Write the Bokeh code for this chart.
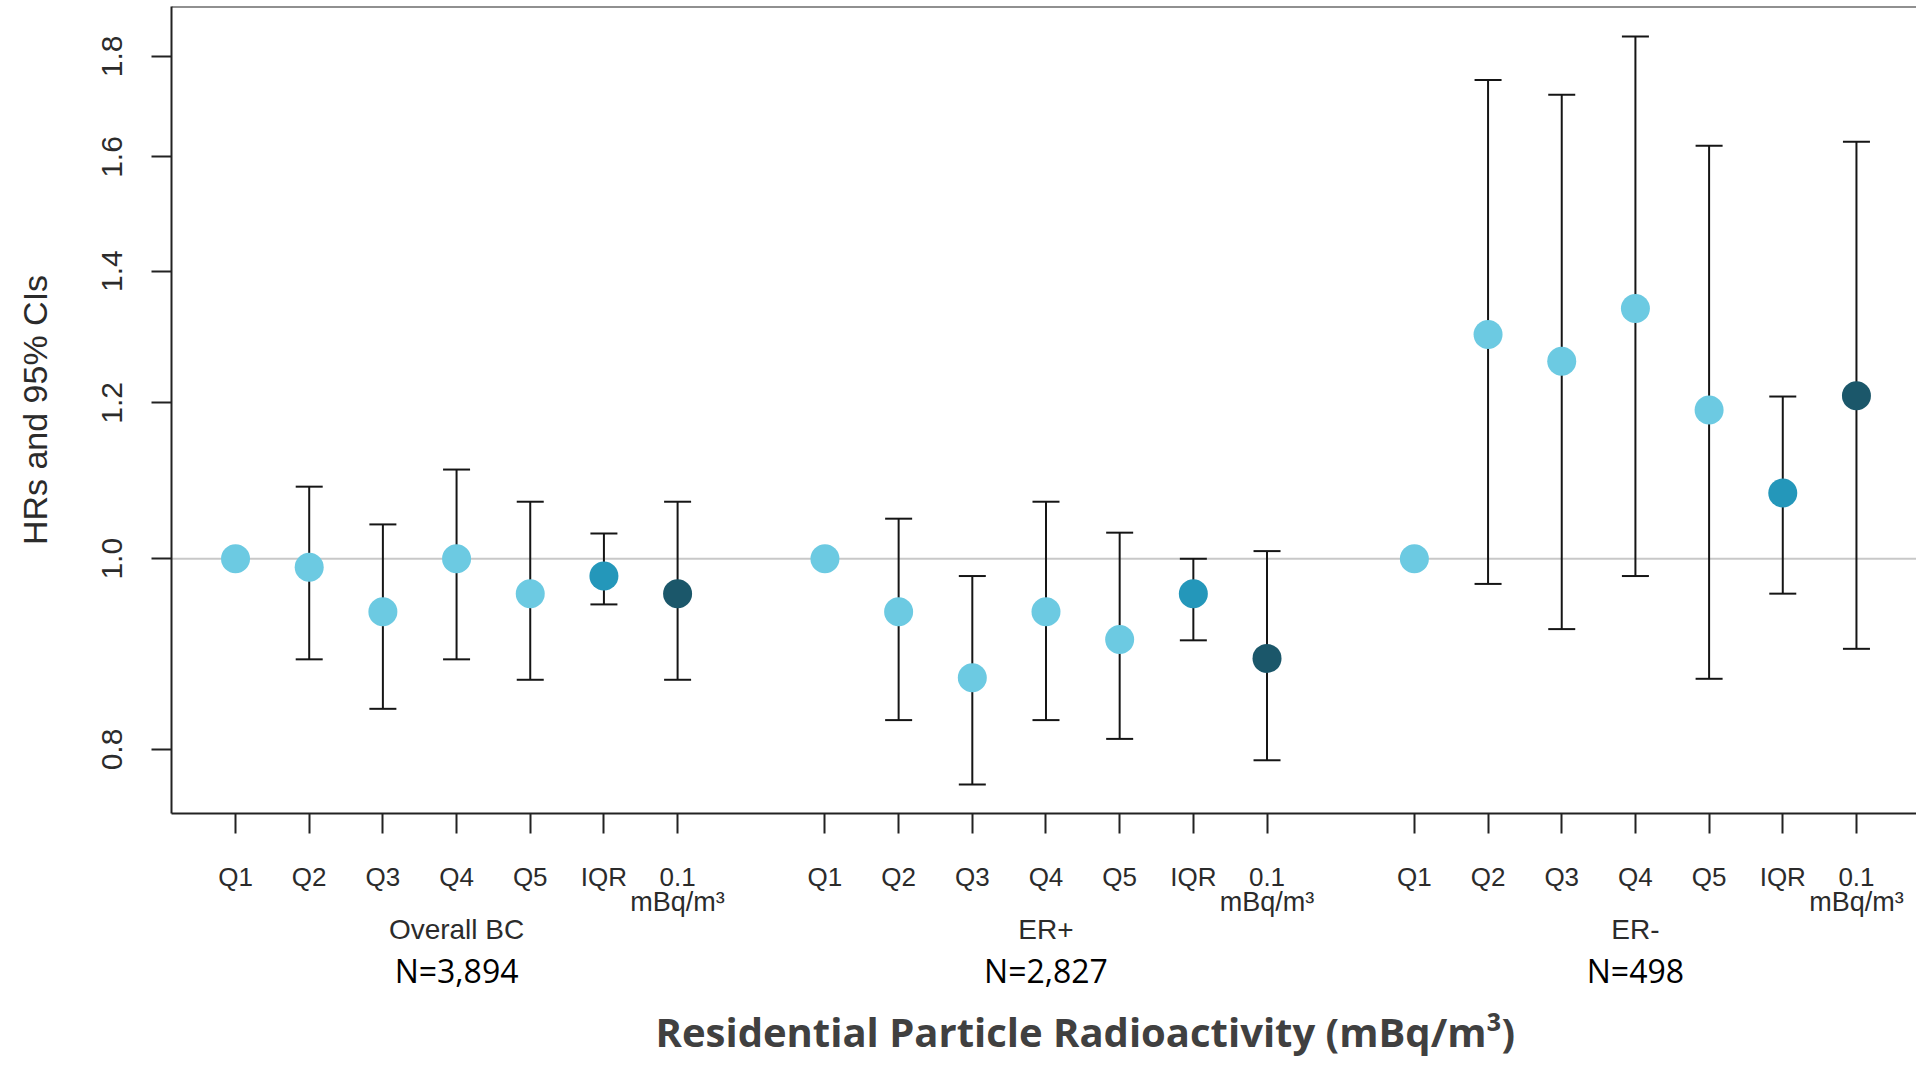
import numpy as np
from bokeh.plotting import figure
from bokeh.models import (ColumnDataSource, Range1d, FixedTicker, CustomJSTickFormatter,
                          Whisker, TeeHead, Span, LinearAxis, Title)
from bokeh.embed import file_html
from bokeh.resources import INLINE

# ---------------- data ----------------
categories = ["Q1", "Q2", "Q3", "Q4", "Q5", "IQR", "0.1"]
unit_label = "mBq/m\u00b3"
groups = ["Overall BC", "ER+", "ER-"]
n_labels = ["N=3,894", "N=2,827", "N=498"]

hr_overall = [1.00, 0.99, 0.94, 1.00, 0.96, 0.98, 0.96]
lo_overall = [np.nan, 0.889, 0.839, 0.889, 0.868, 0.948, 0.868]
hi_overall = [np.nan, 1.088, 1.041, 1.110, 1.069, 1.030, 1.069]

hr_erpos = [1.00, 0.94, 0.87, 0.94, 0.91, 0.96, 0.89]
lo_erpos = [np.nan, 0.828, 0.768, 0.828, 0.810, 0.909, 0.790]
hi_erpos = [np.nan, 1.048, 0.980, 1.069, 1.031, 1.000, 1.009]

hr_erneg = [1.00, 1.30, 1.26, 1.34, 1.19, 1.08, 1.21]
lo_erneg = [np.nan, 0.971, 0.921, 0.980, 0.869, 0.960, 0.900]
hi_erneg = [np.nan, 1.751, 1.721, 1.842, 1.621, 1.209, 1.629]

y_ticks = [0.8, 1.0, 1.2, 1.4, 1.6, 1.8]

# ---------------- styling ----------------
kind_colors = {"Q": "#6ccae2", "IQR": "#2497ba", "0.1": "#1b576a"}
LIGHT_FONT = "Liberation Sans"
TXT = "#2b2b2b"

hrs = [hr_overall, hr_erpos, hr_erneg]
los = [lo_overall, lo_erpos, lo_erneg]
his = [hi_overall, hi_erpos, hi_erneg]

xs, ys, cols, lows, highs = [], [], [], [], []
tick_pos, tick_lab, group_centers, unit_x = [], [], [], []
for g in range(len(groups)):
    base = 1 + g * (len(categories) + 1)
    pos = [base + i for i in range(len(categories))]
    group_centers.append(float(np.mean(pos)))
    for i, cat in enumerate(categories):
        xs.append(pos[i])
        ys.append(hrs[g][i])
        lows.append(los[g][i])
        highs.append(his[g][i])
        cols.append(kind_colors[cat] if cat in kind_colors else kind_colors["Q"])
        tick_pos.append(pos[i])
        tick_lab.append(cat)
        if cat == "0.1":
            unit_x.append(pos[i])

pts = ColumnDataSource(dict(x=xs, y=ys, color=cols))
mask = [not np.isnan(v) for v in lows]
wsrc = ColumnDataSource(dict(
    x=[x for x, m in zip(xs, mask) if m],
    lower=[v for v, m in zip(lows, mask) if m],
    upper=[v for v, m in zip(highs, mask) if m],
))

p = figure(width=1916, height=1066, y_axis_type="log",
           x_range=Range1d(0.131, 23.815), y_range=Range1d(0.7423, 1.908),
           output_backend="svg", toolbar_location=None,
           min_border_left=171, min_border_right=0, min_border_top=6, min_border_bottom=253)
p.outline_line_color = None
p.grid.visible = False
p.background_fill_color = "white"
p.border_fill_color = "white"

# reference line at HR = 1
p.add_layout(Span(location=1.0, dimension="width", line_color="#c8c8c8", line_width=2, level="underlay"))
# top border of the box
p.add_layout(Span(location=1.908, dimension="width", line_color="#222222", line_width=2))

p.scatter("x", "y", source=pts, size=29, fill_color="color", line_color=None)

p.add_layout(Whisker(base="x", lower="lower", upper="upper", source=wsrc, dimension="height",
                     line_color="#151515", line_width=2,
                     upper_head=TeeHead(size=27, line_color="#151515", line_width=2),
                     lower_head=TeeHead(size=27, line_color="#151515", line_width=2)))

# y axis
ya = p.yaxis[0]
ya.ticker = FixedTicker(ticks=y_ticks, minor_ticks=[])
ya.formatter = CustomJSTickFormatter(code="return tick.toFixed(1);")
ya.major_label_orientation = "vertical"
ya.major_label_text_font = LIGHT_FONT
ya.major_label_text_font_size = "30px"
ya.major_label_text_color = TXT
ya.major_label_standoff = 29
ya.major_tick_out = 20
ya.major_tick_in = 0
ya.minor_tick_out = 0
ya.minor_tick_in = 0
ya.major_tick_line_width = 2
ya.major_tick_line_color = "#222222"
ya.axis_line_width = 2
ya.axis_line_color = "#222222"
ya.axis_label = "HRs and 95% CIs"
ya.axis_label_text_font = LIGHT_FONT
ya.axis_label_text_font_size = "34px"
ya.axis_label_text_font_style = "normal"
ya.axis_label_text_color = TXT
ya.axis_label_standoff = 46

# x axis
xa = p.xaxis[0]
xa.ticker = FixedTicker(ticks=tick_pos, minor_ticks=[])
xa.major_label_overrides = {t: l for t, l in zip(tick_pos, tick_lab)}
xa.major_label_text_font = LIGHT_FONT
xa.major_label_text_font_size = "26px"
xa.major_label_text_color = TXT
xa.major_label_standoff = 28
xa.major_tick_out = 20
xa.major_tick_in = 0
xa.minor_tick_out = 0
xa.minor_tick_in = 0
xa.major_tick_line_width = 2
xa.major_tick_line_color = "#222222"
xa.axis_line_width = 2
xa.axis_line_color = "#222222"


def text_axis(ticks, labels, font, size, color, standoff, style="normal"):
    ax = LinearAxis(ticker=FixedTicker(ticks=ticks, minor_ticks=[]))
    ax.major_label_overrides = {t: l for t, l in zip(ticks, labels)}
    ax.major_label_text_font = font
    ax.major_label_text_font_size = size
    ax.major_label_text_font_style = style
    ax.major_label_text_color = color
    ax.major_label_standoff = standoff
    ax.axis_line_color = None
    ax.major_tick_line_color = None
    ax.minor_tick_line_color = None
    ax.major_tick_out = 0
    ax.major_tick_in = 0
    ax.minor_tick_out = 0
    ax.minor_tick_in = 0
    return ax


# unit line under the "0.1" ticks
p.add_layout(text_axis(unit_x, [unit_label] * len(unit_x), LIGHT_FONT, "27px", TXT, -8), "below")
# group names
p.add_layout(text_axis(group_centers, groups, LIGHT_FONT, "28px", TXT, -6), "below")
# sample sizes
p.add_layout(text_axis(group_centers, n_labels, "Open Sans", "32px", "#000000", 1), "below")

# x title
p.add_layout(Title(text="Residential Particle Radioactivity (mBq/m\u00b3)", align="left", offset=484,
                   text_font="Open Sans", text_font_style="bold", text_font_size="40px",
                   text_color="#404040", standoff=14), "below")

open("out.html", "w").write(file_html(p, INLINE))
